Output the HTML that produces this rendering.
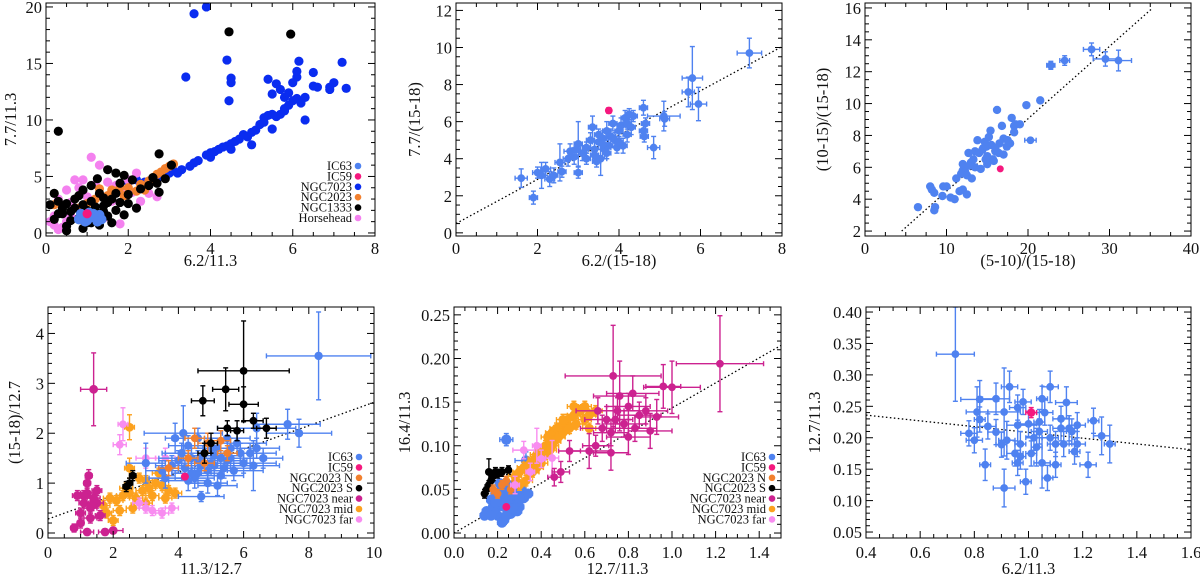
<!DOCTYPE html>
<html><head><meta charset="utf-8">
<style>
html,body{margin:0;padding:0;background:#fff;}
svg{display:block;font-family:"Liberation Serif",serif;}
</style></head>
<body>
<svg id="fig" width="1200" height="579" viewBox="0 0 1200 579" xmlns="http://www.w3.org/2000/svg"></svg>
<script>
const C_IC63='#4f82f0', C_IC59='#f5187e', C_7023='#0a2cf0', C_2023='#f2802e', C_BLK='#000000', C_HH='#f481ef';
const C_NEAR='#cc2290', C_MID='#fca11e', C_FAR='#f88cf0';

// ---------- panel 1 data [x,y] ----------
const p1_ngc7023=[[3.2,5.3],[3.3,5.6],[3.5,5.9],[3.6,6.2],[3.7,6.4],[3.9,6.9],[4.0,7.1],[4.0,6.7],[4.1,7.2],[4.2,7.4],[4.3,7.6],[4.4,7.7],[4.5,7.9],[4.5,7.4],[4.7,8.3],[4.8,8.7],[4.9,8.5],[5.0,8.9],[5.0,7.8],[5.1,9.1],[5.2,9.6],[5.3,10.2],[5.4,10.4],[5.5,10.5],[5.5,9.2],[5.6,10.3],[5.7,10.5],[5.8,11.0],[5.8,10.8],[5.9,11.3],[6.0,11.7],[6.1,11.9],[6.2,11.5],[6.3,12.0],[6.3,10.0],[6.1,13.8],[6.1,14.3],[6.15,15.2],[6.0,13.3],[5.4,13.6],[5.5,12.3],[5.6,13.2],[5.7,12.7],[5.8,12.0],[5.9,12.4],[6.5,14.2],[6.5,13.0],[6.6,12.9],[6.9,12.9],[7.0,13.3],[7.2,15.1],[7.3,12.8],[6.9,12.7],[4.4,15.3],[4.5,13.7],[4.5,13.3],[4.45,11.7],[3.4,13.8],[3.6,19.4],[3.9,20],[2.0,4.5],[2.2,4.7],[2.4,4.5],[2.6,4.8],[1.8,3.7],[1.6,3.3],[2.8,5.0],[3.0,5.3],[3.1,5.5],[2.9,4.9],[4.6,8.1],[5.3,9.8]];
const p1_horsehead=[[1.1,6.7],[1.3,6.0],[0.7,4.7],[0.9,4.7],[0.5,3.8],[0.3,3.0],[0.2,1.5],[0.4,0.5],[2.2,5.3],[2.0,4.7],[1.7,4.2],[2.5,3.5],[2.7,3.2],[2.3,2.8],[0.1,1.0],[0.6,1.5],[1.4,1.3],[1.6,2.8],[1.9,3.5],[0.8,4.0],[2.1,3.6],[1.8,0.8],[0.3,0.3],[1.0,3.2],[0.6,2.7],[1.5,4.5],[2.4,4.0],[0.2,0.7],[0.5,1.0],[1.2,4.3]];
const p1_ngc2023=[[0.2,2.5],[1.3,3.9],[1.6,3.8],[1.8,4.0],[2.0,4.0],[2.3,4.3],[2.5,4.6],[2.6,4.9],[2.7,5.2],[2.8,5.4],[2.9,5.7],[3.0,5.9],[3.1,6.1],[2.2,3.7],[1.5,3.3],[1.0,2.6],[0.8,2.2],[2.4,3.8],[1.2,3.0],[1.9,3.3]];
const p1_ngc1333=[[0.3,9.0],[2.75,7.0],[4.45,17.8],[5.95,17.6],[3.05,6.0],[2.75,3.6],[1.5,5.6],[0.2,3.5],[0.1,2.5],[0.3,2.8],[0.5,2.6],[0.7,2.2],[0.9,2.5],[1.1,2.8],[1.25,4.8],[1.1,4.2],[1.7,5.3],[1.9,5.1],[2.1,4.7],[2.2,2.2],[1.9,1.6],[1.6,0.9],[1.3,0.7],[0.9,0.4],[0.6,1.1],[0.4,1.7],[0.2,1.2],[0.8,3.3],[1.0,1.4],[1.2,1.9],[1.4,2.4],[1.6,3.0],[1.8,2.7],[2.0,3.4],[2.3,3.9],[2.5,4.2],[2.7,4.4],[2.9,4.8],[1.5,1.5],[0.7,3.0],[1.3,3.5],[1.7,2.0],[0.5,0.6],[2.6,4.9],[1.0,2.0],[0.4,2.2],[0.6,1.9],[0.8,1.3],[1.1,0.9],[1.4,1.9],[1.5,2.7],[1.7,3.5],[2.0,2.6],[0.3,1.7],[0.9,3.8],[1.2,2.3],[1.8,4.4],[0.5,0.2],[1.0,0.9],[1.4,3.1]];
const p1_ic63=[[0.8,1.2],[0.9,1.5],[1.0,1.1],[1.1,1.4],[1.2,1.3],[1.3,1.6],[1.35,1.2],[0.85,1.7],[1.05,1.8],[1.25,1.0],[0.95,1.0],[1.15,1.7]];
const p1_ic59=[[1.0,1.7]];

// ---------- panel 2 data [x,y,ex,ey] ----------
const p2_ic63=[[1.6,2.95,0.15,0.5],[1.9,1.9,0.1,0.35],[2.0,3.25,0.12,0.3],[2.2,3.45,0.12,0.35],[2.1,3.1,0.1,0.7],[2.3,2.9,0.12,0.4],[2.4,3.1,0.1,0.4],[2.55,3.8,0.12,1.0],[2.6,3.3,0.1,0.3],[2.75,4.0,0.12,0.4],[2.8,4.4,0.15,0.4],[2.9,4.1,0.1,0.4],[3.0,4.8,0.1,1.2],[3.0,3.25,0.1,0.3],[3.1,4.3,0.1,0.4],[3.2,4.0,0.1,0.3],[3.3,5.0,0.1,0.4],[3.35,5.7,0.1,0.6],[3.4,4.5,0.15,0.5],[3.45,3.85,0.1,0.3],[3.5,4.9,0.15,0.4],[3.55,4.0,0.15,0.9],[3.6,5.1,0.1,0.4],[3.65,4.5,0.1,0.5],[3.7,5.5,0.1,0.5],[3.75,4.7,0.1,0.4],[3.8,5.2,0.12,0.4],[3.85,5.9,0.1,0.4],[3.9,5.0,0.1,0.4],[3.95,4.6,0.15,0.3],[4.0,5.5,0.1,0.4],[4.05,5.8,0.1,0.4],[4.1,4.7,0.1,0.4],[4.15,6.2,0.1,0.4],[4.2,5.3,0.1,0.4],[4.25,6.4,0.1,0.3],[4.3,5.7,0.1,0.4],[4.35,6.3,0.1,0.3],[3.2,4.6,0.1,0.3],[2.95,4.5,0.1,0.3],[3.5,5.3,0.1,0.3],[4.6,6.75,0.1,0.4],[4.6,5.5,0.1,0.3],[4.62,5.2,0.1,0.3],[4.65,5.9,0.1,0.3],[4.85,4.6,0.15,0.6],[5.1,6.3,0.4,0.8],[5.12,6.15,0.12,0.4],[5.7,7.6,0.15,0.8],[5.8,8.35,0.25,1.7],[5.95,6.95,0.2,0.9],[7.2,9.7,0.3,0.8],[3.4,4.2,0.1,0.3],[3.7,4.3,0.1,0.3],[4.0,4.9,0.1,0.3],[4.2,5.9,0.1,0.3],[3.6,4.8,0.1,0.3]];
const p2_ic59=[[3.75,6.6,0.05,0.15]];
const p2_fit=[[0,0.5],[8,10.05]];

// ---------- panel 3 data ----------
const p3_ic63=[[6.5,3.5],[8.0,4.8],[8.2,4.6],[8.5,4.4],[8.5,3.3],[8.6,3.5],[9.5,4.2],[9.6,4.8],[10,4.8],[10.5,4.1],[11,4.0],[11.2,5.3],[11.6,4.5],[12,4.6],[12.5,4.3],[12,5.8],[12,6.2],[12.3,5.7],[12.5,5.5],[12.7,6.9],[13,6.3],[13.1,5.3],[13.3,6.5],[13.5,7.0],[13.8,7.7],[14,6.9],[14.2,5.9],[14.5,7.2],[14.7,7.6],[15,6.2],[15,6.7],[15.2,7.9],[15.4,8.3],[15.5,7.4],[15.7,6.5],[16,7.0],[16.2,9.6],[16.4,6.9],[16.5,7.5],[16.8,8.6],[17,7.8],[17,6.8],[17.4,7.3],[17.8,7.5],[18,9.1],[18.3,8.6],[18.5,8.7],[19,8.7],[18.3,8.2],[17.5,7.7],[16,7.2],[14.8,6.5],[15.8,6.4],[19.8,9.9],[21.5,10.2],[13.5,6.0],[14.4,7.1],[12.8,6.1],[11.8,5.6],[14.9,7.3]];
const p3_ic63err=[[20.3,7.7,0.7,0.15],[22.8,12.4,0.5,0.25],[24.5,12.7,0.6,0.3],[27.8,13.4,1.0,0.4],[29.5,12.8,1.5,0.45],[31.1,12.7,1.6,0.65]];
const p3_ic59=[[16.6,5.9]];
const p3_fit=[[4.5,2],[35.3,16]];

// ---------- panel 4 data [x,y,ex,ey] ----------
const p4_ic63=[[8.3,3.55,1.6,0.88],[3.0,1.4,0.6,0.4],[4.15,2.0,1.2,0.55],[3.9,1.9,0.3,0.3],[4.7,0.73,0.7,0.1],[7.35,2.18,1.0,0.3],[7.7,2.0,1.0,0.28],[6.3,1.35,0.8,0.5],[5.2,0.95,0.6,0.2],[6.4,2.1,1.2,0.3],[4.6,1.9,0.8,0.2],[4.2,1.3,0.8,0.2],[4.4,1.5,1.0,0.2],[4.6,1.2,0.7,0.2],[4.8,1.6,1.2,0.2],[5.0,1.4,0.9,0.2],[5.2,1.7,1.0,0.2],[5.4,1.3,0.8,0.2],[5.6,1.5,1.1,0.2],[5.8,1.8,0.9,0.2],[6.0,1.4,1.0,0.2],[6.2,1.6,0.8,0.2],[4.5,1.1,0.6,0.2],[4.9,1.0,0.6,0.2],[5.3,1.15,0.7,0.2],[5.7,1.25,0.9,0.2],[6.4,1.7,0.7,0.2],[3.6,1.1,0.5,0.2],[3.8,1.35,0.5,0.2],[4.1,1.6,0.6,0.2],[5.5,1.9,0.7,0.2],[5.1,1.55,0.8,0.2],[4.3,1.75,0.6,0.2],[6.6,1.5,0.6,0.2],[3.5,1.25,0.5,0.2],[4.0,1.45,0.6,0.2],[4.7,1.35,0.7,0.2],[5.9,1.6,0.7,0.2],[4.4,1.2,0.6,0.2],[4.6,1.45,0.6,0.2],[4.9,1.25,0.6,0.2],[5.1,1.35,0.6,0.2],[5.3,1.5,0.6,0.2],[5.5,1.45,0.6,0.2],[4.75,1.55,0.6,0.2],[5.0,1.7,0.6,0.2],[4.3,1.05,0.6,0.2],[5.6,1.7,0.6,0.2]];
const p4_ngc2023s=[[6.0,3.25,1.4,1.0],[5.45,2.88,0.4,0.43],[4.75,2.65,0.35,0.3],[6.0,2.58,0.45,0.35],[6.3,2.25,0.3,0.15],[6.7,2.1,0.3,0.2],[5.5,2.1,0.3,0.15],[5.8,2.05,0.2,0.2],[2.4,0.93,0.1,0.1],[2.5,1.0,0.1,0.1],[2.6,1.15,0.1,0.1],[5.0,1.8,0.2,0.2],[4.8,1.6,0.2,0.2]];
const p4_ngc2023n=[[4.5,1.9,0.3,0.2],[4.9,1.8,0.3,0.2],[5.3,1.85,0.3,0.2],[3.7,1.3,0.3,0.15],[4.3,1.5,0.3,0.15],[4.8,1.4,0.3,0.15],[5.5,1.6,0.3,0.15]];
const p4_near=[[1.4,2.88,0.4,0.73],[1.25,1.15,0.1,0.12],[1.2,1.0,0.1,0.1],[0.9,0.75,0.15,0.1],[1.1,0.6,0.15,0.1],[1.3,0.5,0.2,0.1],[1.0,0.4,0.15,0.1],[1.5,0.6,0.2,0.1],[1.6,0.35,0.15,0.1],[1.2,0.8,0.2,0.1],[1.4,0.7,0.2,0.1],[0.8,0.1,0.1,0.08],[1.2,0.02,0.2,0.05],[2.0,0.05,0.3,0.05],[1.75,0.02,0.2,0.05],[1.0,0.2,0.1,0.1],[1.5,0.85,0.15,0.1],[1.3,0.3,0.2,0.1],[1.1,0.75,0.15,0.1],[1.35,0.55,0.15,0.1]];
const p4_mid=[[2.5,2.12,0.15,0.25],[1.7,0.55,0.2,0.1],[1.9,0.7,0.2,0.1],[2.1,0.65,0.2,0.1],[2.3,0.75,0.2,0.1],[2.5,0.8,0.2,0.1],[2.7,0.7,0.2,0.1],[2.9,0.85,0.2,0.1],[3.1,0.9,0.2,0.1],[3.3,1.0,0.2,0.1],[3.5,0.95,0.2,0.1],[3.7,0.85,0.2,0.1],[3.9,0.8,0.2,0.1],[2.2,0.45,0.2,0.1],[2.6,0.5,0.2,0.1],[3.0,0.6,0.2,0.1],[3.2,0.75,0.2,0.1],[2.8,1.1,0.2,0.1],[3.4,1.2,0.2,0.1],[2.5,1.3,0.15,0.2],[2.0,0.25,0.15,0.1],[3.6,0.7,0.2,0.1],[2.4,0.9,0.2,0.1],[1.8,0.4,0.15,0.1],[3.0,1.05,0.2,0.1]];
const p4_far=[[2.3,2.18,0.15,0.33],[2.2,1.77,0.2,0.2],[3.0,1.5,0.3,0.2],[3.6,1.5,0.3,0.2],[3.2,0.45,0.2,0.1],[3.5,0.4,0.2,0.1],[3.0,0.5,0.2,0.1],[3.8,0.5,0.2,0.1],[2.8,0.6,0.2,0.1]];
const p4_ic59=[[4.2,1.13,0.05,0.05]];
const p4_fit=[[0,0.28],[10,2.62]];

// ---------- panel 5 data [x,y,ex,ey] ----------
const p5_ic63=[[0.24,0.107,0.03,0.007],[0.33,0.083,0.05,0.01],[0.15,0.025,0.02,0.004],[0.18,0.03,0.02,0.004],[0.21,0.035,0.02,0.004],[0.24,0.04,0.02,0.004],[0.27,0.035,0.02,0.004],[0.3,0.03,0.02,0.004],[0.2,0.02,0.02,0.004],[0.23,0.015,0.02,0.004],[0.26,0.022,0.02,0.004],[0.19,0.045,0.02,0.004],[0.22,0.05,0.02,0.004],[0.25,0.055,0.02,0.004],[0.28,0.045,0.02,0.004],[0.31,0.05,0.02,0.004],[0.17,0.038,0.02,0.004],[0.29,0.025,0.02,0.004],[0.32,0.04,0.02,0.004],[0.21,0.057,0.02,0.004],[0.25,0.028,0.02,0.004],[0.14,0.02,0.02,0.004],[0.34,0.045,0.02,0.004],[0.22,0.012,0.02,0.004],[0.27,0.05,0.02,0.004],[0.2,0.03,0.02,0.004],[0.18,0.025,0.02,0.004],[0.23,0.03,0.02,0.004],[0.26,0.04,0.02,0.004],[0.29,0.04,0.02,0.004],[0.21,0.045,0.02,0.004],[0.24,0.02,0.02,0.004],[0.17,0.02,0.02,0.004],[0.27,0.028,0.02,0.004],[0.3,0.04,0.02,0.004],[0.19,0.035,0.02,0.004],[0.23,0.045,0.02,0.004]];
const p5_ngc2023s=[[0.15,0.05,0.01,0.005],[0.16,0.055,0.01,0.005],[0.17,0.06,0.01,0.005],[0.18,0.065,0.01,0.005],[0.19,0.07,0.01,0.005],[0.2,0.068,0.01,0.005],[0.22,0.07,0.01,0.005],[0.25,0.072,0.01,0.005],[0.14,0.045,0.01,0.005],[0.16,0.07,0.01,0.015]];
const p5_ngc2023n=[[0.18,0.05,0.01,0.005],[0.2,0.045,0.01,0.005],[0.22,0.055,0.01,0.005],[0.24,0.06,0.01,0.005],[0.26,0.05,0.01,0.005],[0.28,0.06,0.01,0.005]];
const p5_mid=[[0.28,0.065],[0.3,0.07],[0.32,0.075],[0.33,0.06],[0.35,0.08],[0.36,0.07],[0.37,0.085],[0.38,0.09],[0.4,0.095],[0.4,0.08],[0.42,0.1],[0.43,0.11],[0.44,0.095],[0.45,0.115],[0.46,0.105],[0.47,0.12],[0.48,0.11],[0.5,0.125],[0.5,0.115],[0.52,0.13],[0.53,0.12],[0.55,0.135],[0.56,0.125],[0.58,0.14],[0.6,0.13],[0.6,0.145],[0.62,0.135],[0.65,0.14],[0.55,0.145],[0.45,0.1],[0.38,0.075],[0.34,0.07],[0.3,0.055],[0.5,0.13],[0.42,0.09],[0.62,0.12]];
const p5_near=[[1.22,0.194,0.2,0.055],[0.73,0.18,0.22,0.058],[0.76,0.157,0.12,0.04],[0.82,0.16,0.12,0.02],[0.96,0.168,0.08,0.025],[1.0,0.167,0.13,0.03],[0.93,0.133,0.1,0.02],[0.9,0.117,0.1,0.02],[0.72,0.092,0.08,0.02],[0.8,0.11,0.1,0.02],[0.62,0.094,0.1,0.02],[0.53,0.094,0.05,0.012],[0.65,0.1,0.06,0.012],[0.49,0.07,0.04,0.012],[0.46,0.064,0.03,0.01],[0.7,0.13,0.1,0.015],[0.75,0.14,0.1,0.015],[0.78,0.125,0.1,0.015],[0.85,0.135,0.1,0.015],[0.88,0.14,0.1,0.015],[0.68,0.12,0.1,0.015],[0.72,0.115,0.08,0.015],[0.8,0.145,0.1,0.015],[0.83,0.12,0.1,0.015],[0.66,0.14,0.1,0.015],[0.74,0.13,0.08,0.015]];
const p5_far=[[0.45,0.086,0.03,0.02],[0.32,0.095,0.05,0.01],[0.38,0.1,0.02,0.02],[0.35,0.07,0.02,0.01],[0.4,0.085,0.02,0.01],[0.28,0.055,0.02,0.01]];
const p5_ic59=[[0.24,0.03,0.005,0.002]];
const p5_fit=[[0,0],[1.5,0.215]];

// ---------- panel 6 data [x,y,ex,ey] ----------
const p6_ic63=[[0.73,0.333,0.07,0.075],[0.78,0.207,0.03,0.02],[0.80,0.196,0.03,0.02],[0.81,0.241,0.04,0.04],[0.82,0.261,0.07,0.03],[0.82,0.229,0.02,0.02],[0.84,0.157,0.02,0.025],[0.85,0.218,0.03,0.02],[0.88,0.262,0.05,0.025],[0.88,0.209,0.03,0.02],[0.9,0.189,0.02,0.02],[0.91,0.241,0.06,0.07],[0.91,0.12,0.04,0.03],[0.92,0.196,0.03,0.03],[0.93,0.281,0.03,0.025],[0.95,0.175,0.03,0.02],[0.96,0.22,0.04,0.03],[0.96,0.248,0.03,0.02],[0.97,0.17,0.02,0.02],[0.98,0.257,0.03,0.02],[0.99,0.13,0.02,0.02],[1.0,0.222,0.03,0.02],[1.02,0.2,0.03,0.02],[1.03,0.185,0.02,0.03],[1.04,0.21,0.03,0.02],[1.05,0.16,0.03,0.04],[1.05,0.262,0.02,0.02],[1.06,0.24,0.03,0.02],[1.07,0.136,0.02,0.02],[1.08,0.281,0.03,0.025],[1.08,0.2,0.03,0.02],[1.1,0.157,0.02,0.02],[1.1,0.19,0.03,0.02],[1.12,0.23,0.03,0.02],[1.13,0.19,0.03,0.02],[1.14,0.256,0.04,0.025],[1.15,0.215,0.03,0.02],[1.17,0.178,0.02,0.02],[1.18,0.19,0.03,0.02],[1.18,0.22,0.03,0.02],[1.22,0.157,0.03,0.02],[1.24,0.227,0.02,0.02],[1.27,0.203,0.03,0.03],[1.3,0.19,0.02,0.03],[0.97,0.19,0.02,0.02],[1.01,0.175,0.02,0.02],[1.12,0.215,0.03,0.02],[1.16,0.21,0.02,0.02],[1.04,0.225,0.02,0.02],[0.96,0.16,0.02,0.02]];
const p6_ic59=[[1.01,0.24,0.02,0.008]];
const p6_fit=[[0.4,0.236],[1.6,0.181]];

// ---------- tick labels ----------
const p1_xt=[0,2,4,6,8], p1_yt=[0,5,10,15,20];
const p2_xt=[0,2,4,6,8], p2_yt=[0,2,4,6,8,10,12];
const p3_xt=[0,10,20,30,40], p3_yt=[2,4,6,8,10,12,14,16];
const p4_xt=[0,2,4,6,8,10], p4_yt=[0,1,2,3,4];
const p5_xt=['0.0','0.2','0.4','0.6','0.8','1.0','1.2','1.4'], p5_yt=['0.00','0.05','0.10','0.15','0.20','0.25'];
const p6_xt=['0.4','0.6','0.8','1.0','1.2','1.4','1.6'], p6_yt=['0.05','0.10','0.15','0.20','0.25','0.30','0.35','0.40'];

const NS='http://www.w3.org/2000/svg';
const svg=document.getElementById('fig');
function mk(tag,attrs,parent){const e=document.createElementNS(NS,tag);for(const k in attrs)e.setAttribute(k,attrs[k]);(parent||svg).appendChild(e);return e;}

function panel(cfg){
  const g=mk('g',{});
  
  
  const L=cfg.box[0],R=cfg.box[1],T=cfg.box[2],B=cfg.box[3];
  const sx=v=>L+(v-cfg.xd[0])/(cfg.xd[1]-cfg.xd[0])*(R-L);
  const sy=v=>B-(v-cfg.yd[0])/(cfg.yd[1]-cfg.yd[0])*(B-T);
  const cid='clip-'+cfg.name;
  const cp=mk('clipPath',{id:cid},g);mk('rect',{x:L,y:T,width:R-L,height:B-T},cp);
  const plot=mk('g',{'clip-path':'url(#'+cid+')'},g);
  
  
  if(cfg.fit){
    const f=cfg.fit;
    const ln=mk('line',{x1:sx(f[0][0]),y1:sy(f[0][1]),x2:sx(f[1][0]),y2:sy(f[1][1]),stroke:'#000','stroke-width':1.3,'stroke-dasharray':'1.5,2.5'},plot);
    
    
  }
  cfg.series.forEach(s=>{
    const sg=mk('g',{},plot);
    
    
    const r=s.r||cfg.r||3.9;
    s.data.forEach(d=>{
      const x=sx(d[0]),y=sy(d[1]);
      const ex=s.ex!==undefined?s.ex:d[2], ey=s.ey!==undefined?s.ey:d[3];
      if(ex){const x1=sx(d[0]-ex),x2=sx(d[0]+ex);
        mk('line',{x1:x1,y1:y,x2:x2,y2:y,stroke:s.c,'stroke-width':1.4},sg);
        mk('line',{x1:x1,y1:y-2.5,x2:x1,y2:y+2.5,stroke:s.c,'stroke-width':1.4},sg);
        mk('line',{x1:x2,y1:y-2.5,x2:x2,y2:y+2.5,stroke:s.c,'stroke-width':1.4},sg);}
      if(ey){const y1=sy(d[1]-ey),y2=sy(d[1]+ey);
        mk('line',{x1:x,y1:y1,x2:x,y2:y2,stroke:s.c,'stroke-width':1.4},sg);
        mk('line',{x1:x-2.5,y1:y1,x2:x+2.5,y2:y1,stroke:s.c,'stroke-width':1.4},sg);
        mk('line',{x1:x-2.5,y1:y2,x2:x+2.5,y2:y2,stroke:s.c,'stroke-width':1.4},sg);}
      const c=mk('circle',{cx:x,cy:y,r:r,fill:s.c},sg);
      
      
    });
  });
  const fr=mk('rect',{x:L,y:T,width:R-L,height:B-T,fill:'none',stroke:'#000','stroke-width':1},g);
  
  
  const xg=mk('g',{},g);
  const yg=mk('g',{},g);
  const xt=cfg.xt.map(Number), yt=cfg.yt.map(Number);
  const xstep=(xt[1]-xt[0])/cfg.xm, ystep=(yt[1]-yt[0])/cfg.ym;
  for(let v=xt[0]-xstep*cfg.xm;v<=cfg.xd[1]+1e-9;v+=xstep){
    if(v<cfg.xd[0]-1e-9)continue;const x=sx(v);
    const major=Math.abs(((v-xt[0])/(xstep*cfg.xm))-Math.round((v-xt[0])/(xstep*cfg.xm)))<1e-6;
    const len=major?7:4;
    mk('line',{x1:x,y1:B,x2:x,y2:B-len,stroke:'#000','stroke-width':1},xg);
    mk('line',{x1:x,y1:T,x2:x,y2:T+len,stroke:'#000','stroke-width':1},xg);
  }
  for(let v=yt[0]-ystep*cfg.ym;v<=cfg.yd[1]+1e-9;v+=ystep){
    if(v<cfg.yd[0]-1e-9)continue;const y=sy(v);
    const major=Math.abs(((v-yt[0])/(ystep*cfg.ym))-Math.round((v-yt[0])/(ystep*cfg.ym)))<1e-6;
    const len=major?7:4;
    mk('line',{x1:L,y1:y,x2:L+len,y2:y,stroke:'#000','stroke-width':1},yg);
    mk('line',{x1:R,y1:y,x2:R-len,y2:y,stroke:'#000','stroke-width':1},yg);
  }
  cfg.xt.forEach(t=>{const e=mk('text',{x:sx(Number(t)),y:B+cfg.tkOff,'font-size':16.5,'text-anchor':'middle',fill:'#111'},xg);e.textContent=String(t);
    });
  cfg.yt.forEach(t=>{const e=mk('text',{x:L-4,y:sy(Number(t))+6,'font-size':16.5,'text-anchor':'end',fill:'#111'},yg);e.textContent=String(t);
    });
  const xl=mk('text',{x:(L+R)/2,y:B+cfg.tlOff,'font-size':16.5,'text-anchor':'middle',fill:'#111'},g);xl.textContent=cfg.xl;
  
  const yx=cfg.ylx, yy=(T+B)/2;
  const yl=mk('text',{x:yx,y:yy,'font-size':16.5,'text-anchor':'middle',fill:'#111',transform:'rotate(-90 '+yx+' '+yy+')'},g);yl.textContent=cfg.yl;
  
  if(cfg.legend){
    const lg=mk('g',{},g);
    cfg.legend.items.forEach((it,i)=>{
      const y=cfg.legend.y0+i*cfg.legend.dy;
      const t=mk('text',{x:cfg.legend.x,y:y+4,'font-size':12.5,'text-anchor':'end',fill:'#111'},lg);t.textContent=it[0];
      
      const c=mk('circle',{cx:cfg.legend.x+6,cy:y,r:3.3,fill:it[1]},lg);
      
    });
  }
}

panel({name:'panel-77-vs-62',box:[46,375,3,236],xd:[0,8],yd:[-0.27,20.35],xt:p1_xt,yt:p1_yt,xm:4,ym:5,r:4.6,tkOff:18,tlOff:30,
  xl:'6.2/11.3',yl:'7.7/11.3',ylx:16,
  series:[{key:'ngc7023',c:C_7023,data:p1_ngc7023},{key:'horsehead',c:C_HH,data:p1_horsehead},{key:'ngc2023',c:C_2023,data:p1_ngc2023},{key:'ngc1333',c:C_BLK,data:p1_ngc1333},{key:'ic63',c:C_IC63,data:p1_ic63,r:5},{key:'ic59',c:C_IC59,data:p1_ic59}],
  legend:{x:352,y0:166,dy:10.4,items:[['IC63',C_IC63],['IC59',C_IC59],['NGC7023',C_7023],['NGC2023',C_2023],['NGC1333',C_BLK],['Horsehead',C_HH]]}});

panel({name:'panel-77-vs-62-1518',box:[456,782,3,236],xd:[0,8],yd:[-0.17,12.4],xt:p2_xt,yt:p2_yt,xm:4,ym:4,tkOff:18,tlOff:30,
  xl:'6.2/(15-18)',yl:'7.7/(15-18)',ylx:420,fit:p2_fit,
  series:[{key:'ic63',c:C_IC63,data:p2_ic63},{key:'ic59',c:C_IC59,data:p2_ic59}]});

panel({name:'panel-1015-vs-510',box:[865,1191,3,236],xd:[0,40],yd:[1.69,16.31],xt:p3_xt,yt:p3_yt,xm:4,ym:4,tkOff:18,tlOff:30,
  xl:'(5-10)/(15-18)',yl:'(10-15)/(15-18)',ylx:828,fit:p3_fit,
  series:[{key:'ic63',c:C_IC63,data:p3_ic63,ex:0,ey:0,r:4.2},{key:'ic63-err',c:C_IC63,data:p3_ic63err},{key:'ic59',c:C_IC59,data:p3_ic59,ex:0,ey:0,r:3.5}]});

panel({name:'panel-1518-vs-113',box:[48,374,307,538],xd:[0,10],yd:[-0.1,4.53],xt:p4_xt,yt:p4_yt,xm:4,ym:5,tkOff:20,tlOff:36,
  xl:'11.3/12.7',yl:'(15-18)/12.7',ylx:20,fit:p4_fit,
  series:[{key:'ngc7023-mid',c:C_MID,data:p4_mid,r:4.4},{key:'ngc7023-far',c:C_FAR,data:p4_far},{key:'ngc7023-near',c:C_NEAR,data:p4_near,r:4.4},{key:'ic63',c:C_IC63,data:p4_ic63,r:4.2},{key:'ngc2023-n',c:C_2023,data:p4_ngc2023n},{key:'ngc2023-s',c:C_BLK,data:p4_ngc2023s},{key:'ic59',c:C_IC59,data:p4_ic59,r:4}],
  legend:{x:353,y0:457,dy:10.4,items:[['IC63',C_IC63],['IC59',C_IC59],['NGC2023 N',C_2023],['NGC2023 S',C_BLK],['NGC7023 near',C_NEAR],['NGC7023 mid',C_MID],['NGC7023 far',C_FAR]]}});

panel({name:'panel-164-vs-127',box:[454,781,307,538],xd:[0,1.5],yd:[-0.0057,0.259],xt:p5_xt,yt:p5_yt,xm:4,ym:5,tkOff:20,tlOff:36,
  xl:'12.7/11.3',yl:'16.4/11.3',ylx:410,fit:p5_fit,
  series:[{key:'ic63',c:C_IC63,data:p5_ic63,r:5.2},{key:'ngc2023-s',c:C_BLK,data:p5_ngc2023s},{key:'ngc2023-n',c:C_2023,data:p5_ngc2023n},{key:'ngc7023-mid',c:C_MID,data:p5_mid,ex:0.03,ey:0.006,r:4.6},{key:'ngc7023-far',c:C_FAR,data:p5_far},{key:'ngc7023-near',c:C_NEAR,data:p5_near},{key:'ic59',c:C_IC59,data:p5_ic59}],
  legend:{x:766,y0:457,dy:10.4,items:[['IC63',C_IC63],['IC59',C_IC59],['NGC2023 N',C_2023],['NGC2023 S',C_BLK],['NGC7023 near',C_NEAR],['NGC7023 mid',C_MID],['NGC7023 far',C_FAR]]}});

panel({name:'panel-127-vs-62',box:[866,1191,307,538],xd:[0.4,1.6],yd:[0.0405,0.408],xt:p6_xt,yt:p6_yt,xm:4,ym:5,tkOff:20,tlOff:36,
  xl:'6.2/11.3',yl:'12.7/11.3',ylx:820,fit:p6_fit,
  series:[{key:'ic63',c:C_IC63,data:p6_ic63},{key:'ic59',c:C_IC59,data:p6_ic59,r:4.2}]});
</script>
</body></html>
